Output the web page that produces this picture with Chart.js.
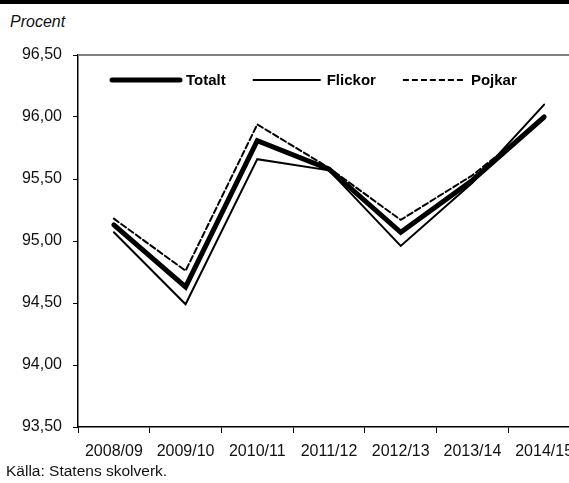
<!DOCTYPE html>
<html lang="sv">
<head>
<meta charset="UTF-8">
<title>Procent – Totalt, Flickor, Pojkar</title>
<script src="https://cdn.jsdelivr.net/npm/chart.js"></script>
<style>
  html, body {
    margin: 0;
    padding: 0;
    width: 569px;
    height: 483px;
    overflow: hidden;
    background: #fff;
  }
  .topbar {
    position: absolute;
    left: 0; top: 0;
    width: 569px; height: 4px;
    background: #000;
  }
  .unit {
    position: absolute;
    left: 10px; top: 13px;
    font-family: 'Liberation Sans', Arial, sans-serif;
    font-style: italic;
    font-size: 16px;
    color: #111;
  }
  .source {
    position: absolute;
    left: 6px; top: 462px;
    font-family: 'Liberation Sans', Arial, sans-serif;
    font-size: 15.5px;
    color: #111;
  }
  #wrap {
    position: absolute;
    left: 0; top: 0;
    width: 600px; height: 483px;
  }
</style>
</head>
<body>
<div class="topbar"></div>
<div class="unit">Procent</div>
<div id="wrap"><canvas id="chart" width="600" height="483"></canvas></div>
<div class="source">Källa: Statens skolverk.</div>

<script>
  // values
  const years = ['2008/09', '2009/10', '2010/11', '2011/12', '2012/13', '2013/14', '2014/15'];
  const totalt = [95.13, 94.63, 95.81, 95.58, 95.07, 95.49, 96.00];
  const flickor = [95.07, 94.49, 95.66, 95.57, 94.96, 95.47, 96.10];
  const pojkar = [95.18, 94.76, 95.94, 95.59, 95.17, 95.53, 95.99];

  const sans = "'Liberation Sans', Arial, sans-serif";

  // legend drawn inside the plot, one line sample + bold label per series
  const insideLegend = {
    id: 'insideLegend',
    afterDatasetsDraw (chart) {
      const ctx = chart.ctx;
      const area = chart.chartArea;
      let x = area.left + 34;
      const y = area.top + 25;
      ctx.save();
      ctx.font = 'bold 15px ' + sans;
      ctx.textBaseline = 'middle';
      ctx.fillStyle = '#000';
      chart.data.datasets.forEach(ds => {
        const dashed = ds.borderDash && ds.borderDash.length;
        const len = dashed ? 62 : 68;
        ctx.beginPath();
        ctx.strokeStyle = ds.borderColor;
        ctx.lineWidth = ds.borderWidth;
        ctx.lineCap = ds.borderWidth > 3 ? 'round' : 'butt';
        ctx.setLineDash(ds.borderDash || []);
        ctx.moveTo(x, y);
        ctx.lineTo(x + len, y);
        ctx.stroke();
        ctx.setLineDash([]);
        ctx.fillText(ds.label, x + len + 6, y + 1);
        x += len + 6 + ctx.measureText(ds.label).width + 27;
      });
      ctx.restore();
    }
  };

  // grey top edge of the plot box
  const plotTop = {
    id: 'plotTop',
    afterDraw (chart) {
      const ctx = chart.ctx;
      const area = chart.chartArea;
      ctx.save();
      ctx.strokeStyle = '#7f7f7f';
      ctx.lineWidth = 2;
      ctx.beginPath();
      ctx.moveTo(area.left, area.top);
      ctx.lineTo(area.right, area.top);
      ctx.stroke();
      ctx.restore();
    }
  };

  const line = (label, data, width, dash) => ({
    label,
    data,
    borderColor: '#000',
    backgroundColor: '#000',
    borderWidth: width,
    borderDash: dash,
    borderCapStyle: 'round',
    pointRadius: 0,
    tension: 0,
    fill: false
  });

  new Chart(document.getElementById('chart'), {
    type: 'line',
    data: {
      labels: years,
      datasets: [
        line('Totalt', totalt, 5, []),
        line('Flickor', flickor, 2, []),
        line('Pojkar', pojkar, 2, [6, 3])
      ]
    },
    options: {
      responsive: false,
      animation: false,
      layout: { padding: { left: 0, right: 20, top: 55, bottom: 26 } },
      plugins: {
        legend: { display: false },
        tooltip: { enabled: false }
      },
      scales: {
        x: {
          offset: true,
          grid: {
            offset: true,
            drawOnChartArea: false,
            color: '#000',
            tickLength: 6
          },
          border: { color: '#000', width: 1.5 },
          ticks: {
            color: '#111',
            font: { family: sans, size: 16 },
            padding: 9,
            maxRotation: 0,
            autoSkip: false
          },
          afterFit (scale) { scale.height = 30; }
        },
        y: {
          min: 93.5,
          max: 96.5,
          grid: {
            drawOnChartArea: false,
            color: '#000',
            tickLength: 5
          },
          border: { color: '#000', width: 1.5 },
          ticks: {
            stepSize: 0.5,
            color: '#111',
            font: { family: sans, size: 16 },
            padding: 11,
            callback: v => v.toFixed(2).replace('.', ',')
          },
          afterFit (scale) { scale.width = 78; }
        }
      }
    },
    plugins: [insideLegend, plotTop]
  });
</script>
</body>
</html>
